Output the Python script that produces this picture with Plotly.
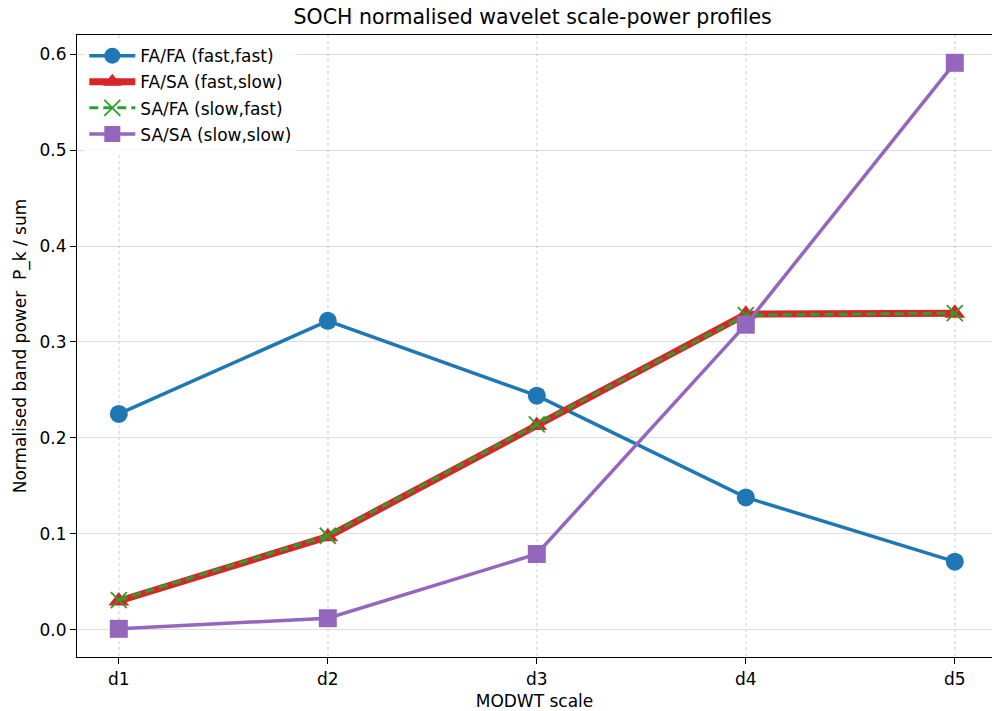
import plotly.graph_objects as go

scales = ["d1", "d2", "d3", "d4", "d5"]
fa_fa = [0.225, 0.322, 0.244, 0.138, 0.071]
fa_sa = [0.030, 0.097, 0.213, 0.329, 0.330]
sa_fa = [0.031, 0.098, 0.214, 0.328, 0.330]
sa_sa = [0.001, 0.012, 0.079, 0.318, 0.591]
y_ticks = [0.0, 0.1, 0.2, 0.3, 0.4, 0.5, 0.6]

xi = list(range(len(scales)))

fig = go.Figure()
fig.add_trace(go.Scatter(x=xi, y=fa_fa, mode="lines+markers", name="FA/FA (fast,fast)",
                         legendgroup="a",
                         line=dict(color="#1f77b4", width=3.5),
                         marker=dict(symbol="circle", size=18, color="#1f77b4")))
fig.add_trace(go.Scatter(x=xi, y=fa_sa, mode="lines+markers", name="FA/SA (fast,slow)",
                         legendgroup="b",
                         line=dict(color="#d62728", width=7),
                         marker=dict(symbol="triangle-up", size=18, color="#d62728")))
fig.add_trace(go.Scatter(x=xi, y=sa_fa, mode="lines+markers", name="SA/FA (slow,fast)",
                         legendgroup="c",
                         line=dict(color="#2ca02c", width=3, dash="9px,5px"),
                         marker=dict(symbol="x-thin", size=16, color="#2ca02c",
                                     line=dict(color="#2ca02c", width=1.8))))
fig.add_trace(go.Scatter(x=xi, y=sa_sa, mode="lines+markers", name="SA/SA (slow,slow)",
                         legendgroup="d",
                         line=dict(color="#9467bd", width=3.5),
                         marker=dict(symbol="square", size=18, color="#9467bd")))

fig.update_layout(
    width=992, height=711,
    margin=dict(l=77, r=0, t=35, b=54),
    paper_bgcolor="white", plot_bgcolor="white",
    font=dict(family="DejaVu Sans", size=17, color="black"),
    title=dict(text="SOCH normalised wavelet scale-power profiles", x=0.537, xanchor="center",
               y=0.976, yanchor="middle", font=dict(size=20.5)),
    showlegend=True,
    legend=dict(x=0.008, y=0.995, xanchor="left", yanchor="top",
                bgcolor="rgba(255,255,255,0.8)", font=dict(size=17),
                itemwidth=46, tracegroupgap=1),
    xaxis=dict(
        tickmode="array", tickvals=xi, ticktext=scales,
        range=[-0.2, 4.178],
        showgrid=True, gridcolor="rgba(200,200,200,0.45)", griddash="dot", gridwidth=1.5,
        showline=True, linecolor="black", linewidth=1.2, mirror=True,
        ticks="outside", ticklen=6, tickcolor="black",
        zeroline=False,
        title=dict(text="MODWT scale", font=dict(size=17), standoff=8),
        tickfont=dict(size=17),
    ),
    yaxis=dict(
        tickmode="array", tickvals=y_ticks, ticktext=[f"{v:.1f}" for v in y_ticks],
        range=[-0.0284, 0.620],
        showgrid=True, gridcolor="rgba(200,200,200,0.6)", gridwidth=1.2,
        showline=True, linecolor="black", linewidth=1.2, mirror=False,
        ticks="outside", ticklen=6, tickcolor="black",
        zeroline=False,
        title=dict(text="Normalised band power\u00a0\u00a0P_k / sum", font=dict(size=17), standoff=8),
        tickfont=dict(size=17),
    ),
)

fig.write_html("out.html")
